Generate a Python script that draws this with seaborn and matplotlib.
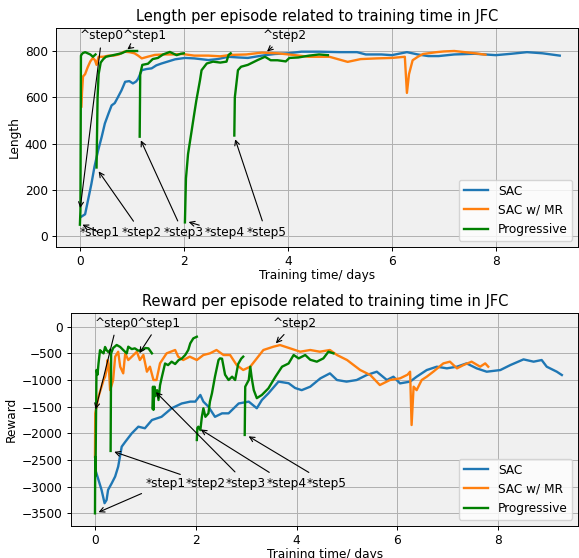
import pandas as pd
import matplotlib
matplotlib.use('Agg')
import matplotlib.pyplot as plt
import seaborn as sns

methods = ['SAC', 'SAC w/ MR', 'Progressive']
colors = {'SAC': '#1f77b4', 'SAC w/ MR': '#ff7f0e', 'Progressive': 'green'}

# ---- episode length (top panel) ----
len_sac_t = [0.03, 0.1, 0.16, 0.22, 0.28, 0.35, 0.42, 0.48, 0.55, 0.61, 0.67, 0.73, 0.8, 0.87, 0.95, 1.02,
             1.08, 1.12, 1.19, 1.28, 1.38, 1.47, 1.57, 1.7, 1.83, 2.02, 2.2, 2.47, 2.65, 2.85, 3.05, 3.23,
             3.5, 3.75, 4.0, 4.26, 4.6, 5.0, 5.33, 5.5, 5.8, 6.0, 6.29, 6.5, 6.7, 6.9, 7.2, 7.6, 8.0, 8.3,
             8.6, 8.9, 9.23]
len_sac_v = [85, 95, 160, 225, 300, 370, 430, 487, 530, 565, 575, 600, 630, 667, 670, 660,
             668, 680, 717, 722, 725, 738, 746, 755, 764, 770, 768, 761, 765, 775, 772, 770,
             780, 787, 790, 797, 797, 795, 795, 785, 785, 782, 795, 785, 778, 778, 785, 788, 782, 788,
             795, 790, 780]
len_mr_t = [0.03, 0.04, 0.06, 0.1, 0.15, 0.2, 0.25, 0.29, 0.32, 0.36, 0.45, 0.55, 0.65, 0.75, 0.85, 0.95,
            1.05, 1.12, 1.19, 1.3, 1.44, 1.6, 1.8, 1.97, 2.2, 2.47, 2.7, 2.9, 3.2, 3.5, 3.8, 4.1, 4.4,
            4.8, 5.15, 5.4, 5.7, 6.0, 6.25, 6.29, 6.33, 6.4, 6.5, 6.6, 6.86, 7.0, 7.2, 7.4, 7.6, 7.8]
len_mr_v = [560, 620, 690, 700, 730, 755, 770, 760, 740, 775, 775, 780, 780, 785, 797, 795,
            790, 780, 768, 775, 783, 785, 785, 787, 780, 780, 777, 783, 785, 793, 790, 783, 775,
            775, 753, 765, 768, 770, 775, 619, 700, 760, 775, 787, 795, 798, 800, 795, 790, 784]
len_prog_t = [
    [0.0, 0.01, 0.02, 0.05, 0.1, 0.15, 0.2, 0.25, 0.3],
    [0.32, 0.34, 0.36, 0.4, 0.45, 0.5, 0.6, 0.7, 0.8, 0.9, 1.0, 1.1],
    [1.15, 1.16, 1.2, 1.31, 1.4, 1.5, 1.6, 1.73, 1.86, 1.94, 2.0],
    [2.02, 2.04, 2.08, 2.14, 2.2, 2.24, 2.31, 2.34, 2.44, 2.56, 2.7, 2.82, 2.86, 2.9],
    [2.97, 2.98, 3.04, 3.1, 3.23, 3.42, 3.56, 3.67, 3.8, 3.96, 4.03, 4.2, 4.41, 4.6, 4.77],
]
len_prog_v = [
    [50, 110, 780, 790, 795, 790, 785, 775, 785],
    [297, 600, 700, 750, 765, 775, 780, 785, 790, 800, 800, 800],
    [430, 700, 740, 745, 765, 770, 785, 796, 782, 788, 790],
    [60, 250, 355, 442, 530, 587, 674, 717, 746, 754, 750, 754, 783, 790],
    [435, 600, 717, 732, 740, 761, 775, 760, 760, 755, 770, 772, 780, 785, 782],
]

# ---- episode reward (bottom panel) ----
rew_sac_t = [0.01, 0.07, 0.13, 0.19, 0.23, 0.26, 0.33, 0.4, 0.46, 0.53, 0.6, 0.73, 0.86, 0.99, 1.13, 1.32,
             1.52, 1.72, 1.89, 1.99, 2.09, 2.15, 2.25, 2.38, 2.52, 2.65, 2.85, 3.05, 3.21, 3.31, 3.44, 3.64,
             3.84, 3.97, 4.1, 4.27, 4.47, 4.66, 4.8, 4.99, 5.19, 5.39, 5.59, 5.79, 5.92, 6.05, 6.25, 6.38,
             6.58, 6.78, 6.98, 7.18, 7.37, 7.57, 7.77, 8.04, 8.24, 8.5, 8.7, 8.86, 8.96, 9.16, 9.26]
rew_sac_v = [-2690, -2875, -3060, -3310, -3250, -3060, -2940, -2810, -2625, -2250, -2160, -2000, -1875, -1905, -1750, -1690,
             -1530, -1440, -1405, -1405, -1280, -1405, -1500, -1690, -1625, -1625, -1440, -1405, -1530, -1375, -1250, -1030,
             -1060, -1150, -1190, -1125, -969, -875, -1000, -1030, -1000, -906, -844, -1000, -938, -1063, -1030, -938,
             -813, -750, -781, -750, -688, -781, -844, -813, -719, -613, -656, -625, -750, -844, -906]
rew_mr_t = [0.0, 0.005, 0.03, 0.07, 0.13, 0.17, 0.2, 0.23, 0.25, 0.27, 0.3, 0.33, 0.36, 0.4, 0.46, 0.5,
            0.56, 0.6, 0.66, 0.73, 0.83, 0.89, 0.96, 1.03, 1.09, 1.16, 1.22, 1.29, 1.42, 1.59, 1.65, 1.75,
            1.88, 2.02, 2.15, 2.28, 2.41, 2.55, 2.68, 2.81, 2.94, 3.08, 3.21, 3.34, 3.54, 3.67, 3.87, 4.07,
            4.27, 4.46, 4.66, 4.8, 5.0, 5.13, 5.26, 5.46, 5.65, 5.85, 6.05, 6.2, 6.25, 6.28, 6.32, 6.38,
            6.48, 6.58, 6.71, 6.91, 7.04, 7.18, 7.31, 7.47, 7.64, 7.74, 7.8]
rew_mr_v = [-2440, -1625, -1500, -1310, -1125, -1000, -940, -812, -625, -700, -1190, -1100, -1000, -562, -470, -750,
            -875, -500, -625, -562, -470, -625, -530, -844, -750, -1000, -1000, -687, -500, -437, -562, -625,
            -562, -625, -531, -500, -437, -531, -531, -719, -812, -750, -594, -437, -375, -344, -406, -469,
            -437, -469, -437, -531, -625, -719, -812, -906, -1094, -1000, -969, -900, -844, -1844, -1125, -1190,
            -1000, -938, -844, -688, -656, -781, -719, -656, -750, -688, -750]
rew_prog_t = [
    [0.0, 0.005, 0.01, 0.02, 0.03, 0.05, 0.07, 0.1, 0.13, 0.17, 0.2, 0.23, 0.27, 0.3],
    [0.31, 0.32, 0.36, 0.43, 0.5, 0.56, 0.63, 0.66, 0.73, 0.79, 0.86, 0.93, 1.0, 1.06, 1.13],
    [1.14, 1.15, 1.16, 1.18, 1.2, 1.23, 1.26, 1.29, 1.32, 1.39, 1.45, 1.52, 1.59, 1.66, 1.72, 1.79,
     1.85, 1.89, 1.95, 2.02],
    [2.02, 2.03, 2.05, 2.09, 2.12, 2.15, 2.19, 2.25, 2.28, 2.32, 2.38, 2.45, 2.48, 2.52, 2.58, 2.65,
     2.72, 2.78, 2.84, 2.9, 2.94],
    [2.97, 2.98, 3.05, 3.08, 3.11, 3.15, 3.21, 3.31, 3.44, 3.58, 3.71, 3.84, 3.94, 4.04, 4.17, 4.27,
     4.4, 4.53, 4.63, 4.73],
]
rew_prog_v = [
    [-3500, -2440, -2800, -1750, -812, -900, -690, -440, -470, -500, -380, -440, -480, -437],
    [-2330, -500, -400, -343, -380, -437, -500, -375, -420, -406, -450, -437, -400, -406, -500],
    [-1530, -1125, -1560, -1125, -1300, -1190, -1375, -1100, -970, -690, -720, -656, -700, -625, -600, -531,
     -437, -312, -219, -188],
    [-2125, -1900, -1875, -1940, -1690, -1530, -1690, -1625, -1405, -1250, -937, -625, -594, -600, -900, -1000,
     -937, -1000, -700, -600, -562],
    [-2030, -1125, -1000, -750, -970, -1190, -1340, -1280, -1156, -937, -750, -690, -531, -594, -531, -620,
     -656, -594, -469, -500],
]

# annotation labels and targets
top_labels = ['^step0', '^step1', '^step2']
star_labels = ['*step1', '*step2', '*step3', '*step4', '*step5']
len_top_xy = [(0.0, 110), (0.87, 800), (3.56, 790)]
len_top_text = [(0.0, 850), (0.83, 850), (3.52, 850)]
len_star_xy = [(0.0, 55), (0.33, 290), (1.15, 425), (2.04, 65), (2.97, 430)]
len_star_text = [(0.0, 0), (0.8, 0), (1.6, 0), (2.4, 0), (3.2, 0)]
rew_top_xy = [(0.0, -1600), (0.85, -540), (3.55, -350)]
rew_top_text = [(0.0, 0), (0.83, 0), (3.52, 0)]
rew_star_xy = [(0.02, -3500), (0.33, -2330), (1.17, -1190), (2.05, -1900), (3.0, -2030)]
rew_star_text = [(1.0, -3000), (1.8, -3000), (2.6, -3000), (3.4, -3000), (4.2, -3000)]

fs = 8.75  # original figure looks rendered at ~0.875 scale


def build(sac_t, sac_v, mr_t, mr_v, prog_t, prog_v):
    rows = []
    for t, v in zip(sac_t, sac_v):
        rows.append(('SAC', 0, t, v))
    for t, v in zip(mr_t, mr_v):
        rows.append(('SAC w/ MR', 0, t, v))
    for k, (ts, vs) in enumerate(zip(prog_t, prog_v)):
        for t, v in zip(ts, vs):
            rows.append(('Progressive', k, t, v))
    return pd.DataFrame(rows, columns=['method', 'segment', 'time', 'value'])


def draw(ax, df, ylabel, title, tops, tops_txt, stars, stars_txt):
    ax.set_facecolor('#f0f0f0')
    ax.grid(True, color='#b0b0b0', lw=0.7)
    ax.set_axisbelow(True)
    for s in ax.spines.values():
        s.set_linewidth(0.7)
    sns.lineplot(data=df, x='time', y='value', hue='method', units='segment', estimator=None,
                 hue_order=methods, palette=colors, sort=False, linewidth=1.7, ax=ax)
    for lab, xy, xyt in zip(top_labels + star_labels, tops + stars, tops_txt + stars_txt):
        ax.annotate(lab, xy=xy, xytext=xyt, fontsize=fs,
                    arrowprops=dict(arrowstyle='->', color='black', lw=0.8))
    ax.set_title(title, fontsize=10.5, pad=5)
    ax.set_xlabel('Training time/ days', fontsize=fs, labelpad=1)
    ax.set_ylabel(ylabel, fontsize=fs, labelpad=3)
    ax.tick_params(labelsize=fs, width=0.7, length=3, pad=3)
    sns.move_legend(ax, 'lower right', title=None, fontsize=fs)


fig = plt.figure(figsize=(5.79, 5.58), dpi=100)
ax1 = fig.add_axes([0.0967, 0.5579, 0.9024, 0.3914])
ax2 = fig.add_axes([0.1226, 0.0579, 0.8765, 0.3806])

df_len = build(len_sac_t, len_sac_v, len_mr_t, len_mr_v, len_prog_t, len_prog_v)
df_rew = build(rew_sac_t, rew_sac_v, rew_mr_t, rew_mr_v, rew_prog_t, rew_prog_v)

draw(ax1, df_len, 'Length', 'Length per episode related to training time in JFC',
     len_top_xy, len_top_text, len_star_xy, len_star_text)
ax1.set_xlim(-0.46, 9.59)
ax1.set_ylim(-45, 898)
ax1.set_yticks([0, 200, 400, 600, 800])
ax1.set_xticks([0, 2, 4, 6, 8])

draw(ax2, df_rew, 'Reward', 'Reward per episode related to training time in JFC',
     rew_top_xy, rew_top_text, rew_star_xy, rew_star_text)
ax2.set_xlim(-0.476, 9.59)
ax2.set_ylim(-3732, 251)
ax2.set_yticks([-3500, -3000, -2500, -2000, -1500, -1000, -500, 0])
ax2.set_xticks([0, 2, 4, 6, 8])

fig.savefig('out.png', dpi=100)
